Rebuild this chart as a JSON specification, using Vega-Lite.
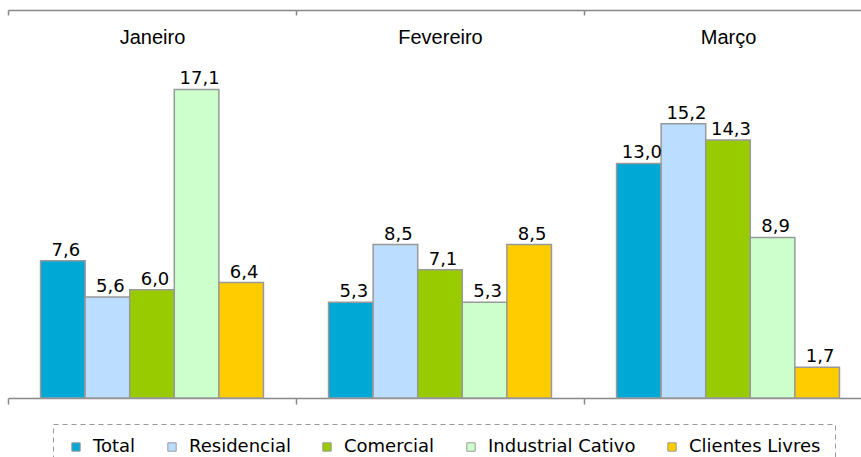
{
  "$schema": "https://vega.github.io/schema/vega-lite/v6.json",
  "autosize": {"type": "none"},
  "width": 853,
  "height": 388,
  "padding": {"left": 8, "top": 10, "right": 0, "bottom": 59},
  "background": "white",
  "config": {
    "view": {"stroke": null},
    "legend": {"strokeColor": "#999999", "strokeDash": [5, 4]},
    "locale": {"number": {"decimal": ",", "thousands": ".", "grouping": [3], "currency": ["", ""]}}
  },
  "data": {"values": [
    {"month": "Janeiro", "cat": "Total", "value": 7.6},
    {"month": "Janeiro", "cat": "Residencial", "value": 5.6},
    {"month": "Janeiro", "cat": "Comercial", "value": 6.0},
    {"month": "Janeiro", "cat": "Industrial Cativo", "value": 17.1},
    {"month": "Janeiro", "cat": "Clientes Livres", "value": 6.4},
    {"month": "Fevereiro", "cat": "Total", "value": 5.3},
    {"month": "Fevereiro", "cat": "Residencial", "value": 8.5},
    {"month": "Fevereiro", "cat": "Comercial", "value": 7.1},
    {"month": "Fevereiro", "cat": "Industrial Cativo", "value": 5.3},
    {"month": "Fevereiro", "cat": "Clientes Livres", "value": 8.5},
    {"month": "Março", "cat": "Total", "value": 13.0},
    {"month": "Março", "cat": "Residencial", "value": 15.2},
    {"month": "Março", "cat": "Comercial", "value": 14.3},
    {"month": "Março", "cat": "Industrial Cativo", "value": 8.9},
    {"month": "Março", "cat": "Clientes Livres", "value": 1.7}
  ]},
  "encoding": {
    "x": {
      "field": "month", "type": "nominal",
      "sort": ["Janeiro", "Fevereiro", "Março"],
      "scale": {"range": [0, 864], "paddingInner": 0, "paddingOuter": 0}
    },
    "xOffset": {
      "field": "cat", "type": "nominal",
      "sort": ["Total", "Residencial", "Comercial", "Industrial Cativo", "Clientes Livres"],
      "scale": {"paddingInner": 0, "paddingOuter": 0.73}
    },
    "y": {
      "field": "value", "type": "quantitative",
      "scale": {"domain": [0, 21.5], "nice": false},
      "axis": null
    }
  },
  "layer": [
    {
      "mark": {"type": "bar", "stroke": "#999999", "strokeWidth": 1.5},
      "encoding": {
        "x": {
          "field": "month", "type": "nominal",
          "sort": ["Janeiro", "Fevereiro", "Março"],
          "axis": {
            "orient": "bottom", "title": null, "labels": false,
            "tickBand": "extent", "tickSize": 6, "tickColor": "#888888", "tickWidth": 1.5,
            "domainColor": "#888888", "domainWidth": 1.5
          }
        },
        "color": {
          "field": "cat", "type": "nominal",
          "sort": ["Total", "Residencial", "Comercial", "Industrial Cativo", "Clientes Livres"],
          "scale": {
            "domain": ["Total", "Residencial", "Comercial", "Industrial Cativo", "Clientes Livres"],
            "range": ["#00A8D6", "#BBDDFF", "#99CC00", "#CCFFCC", "#FFCC00"]
          },
          "legend": {
            "title": null,
            "orient": "none",
            "direction": "horizontal",
            "legendX": 45,
            "legendY": 414,
            "symbolType": "square",
            "symbolSize": 70,
            "symbolStrokeColor": "#999999",
            "symbolStrokeWidth": 1,
            "labelFont": "DejaVu Sans",
            "labelFontSize": 18,
            "labelColor": "black",
            "labelOffset": 8,
            "columnPadding": 27,
            "padding": 14
          }
        }
      }
    },
    {
      "mark": {"type": "text", "baseline": "alphabetic", "dy": -5, "dx": 3, "font": "DejaVu Sans", "fontSize": 18, "color": "black"},
      "encoding": {
        "x": {
          "field": "month", "type": "nominal",
          "sort": ["Janeiro", "Fevereiro", "Março"],
          "axis": {
            "orient": "top", "title": null, "labelAngle": 0,
            "tickBand": "extent", "tickSize": -5, "tickColor": "#888888", "tickWidth": 1.5,
            "domainColor": "#888888", "domainWidth": 1.5,
            "labelPadding": -32, "labelFont": "Liberation Sans", "labelFontSize": 20, "labelColor": "black"
          }
        },
        "text": {"field": "value", "type": "quantitative", "format": ".1f"}
      }
    }
  ]
}
